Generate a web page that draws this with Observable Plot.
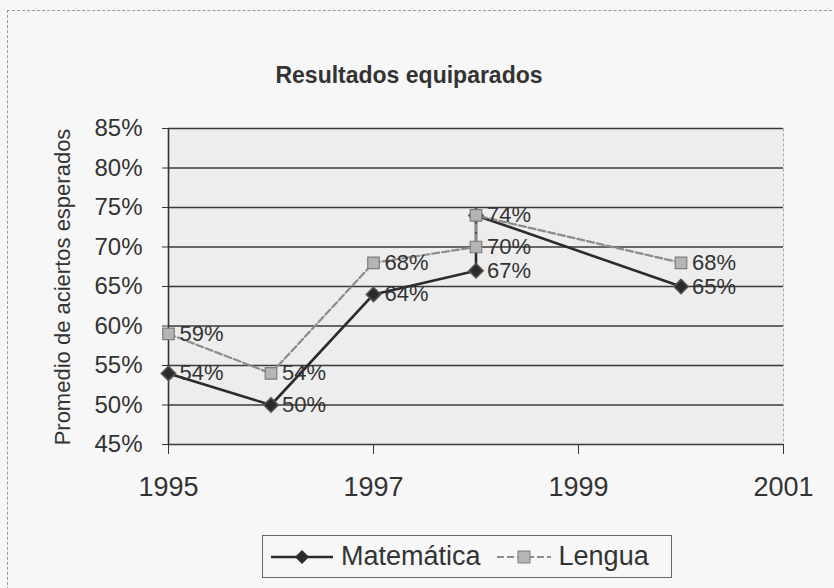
<!DOCTYPE html>
<html>
<head>
<meta charset="utf-8">
<script src="https://cdn.jsdelivr.net/npm/d3@7"></script>
<script src="https://cdn.jsdelivr.net/npm/@observablehq/plot@0.6"></script>
<style>
  html, body { margin: 0; padding: 0; background: #f7f7f7; }
  #wrap { position: relative; width: 834px; height: 588px; overflow: hidden; font-family: "Liberation Sans", Arial, sans-serif; color: #333; }
  #border { position: absolute; left: 7px; top: 10px; width: 850px; height: 600px; border: 1px dashed #9a9a9a; box-sizing: border-box; }
  #title { position: absolute; left: 0; width: 818px; top: 62px; text-align: center; font-size: 23px; font-weight: bold; }
  #ylabel { position: absolute; left: 63px; top: 287px; transform: translate(-50%, -50%) rotate(-90deg); white-space: nowrap; font-size: 22px; }
  #legend { position: absolute; left: 262px; top: 535px; width: 410px; height: 43px; border: 1px solid #666; box-sizing: border-box; display: flex; align-items: center; font-size: 27px; }
  #legend .item { display: flex; align-items: center; }
  #plot { position: absolute; left: 0; top: 0; }
</style>
</head>
<body>
<div id="wrap">
  <div id="border"></div>
  <div id="plot"></div>
  <div id="title"></div>
  <div id="ylabel"></div>
  <div id="legend"></div>
</div>
<script>
// ---- data ----
const title = "Resultados equiparados";
const yLabel = "Promedio de aciertos esperados";
const seriesNames = ["Matemática", "Lengua"];
const years = [1995, 1996, 1997, 1998, 1998, 2000];
const matematica = [54, 50, 64, 67, 74, 65];
const lengua = [59, 54, 68, 70, 74, 68];
const matematicaLabelled = [true, true, true, true, false, true];
const lenguaLabelled = [true, true, true, true, true, true];
const xTicks = [1995, 1997, 1999, 2001];
const yTicks = [45, 50, 55, 60, 65, 70, 75, 80, 85];
const xDomain = [1995, 2001];
const yDomain = [45, 85];

const mathData = years.map((x, i) => ({x, y: matematica[i], label: matematicaLabelled[i]}));
const lengData = years.map((x, i) => ({x, y: lengua[i], label: lenguaLabelled[i]}));

const chart = Plot.plot({
  width: 834,
  height: 588,
  marginLeft: 168,
  marginRight: 51,
  marginTop: 128,
  marginBottom: 144,
  style: { background: "transparent", fontFamily: "Liberation Sans, Arial, sans-serif", color: "#333", overflow: "visible" },
  x: { domain: xDomain, ticks: xTicks, tickFormat: "d" },
  y: { domain: yDomain, ticks: yTicks, tickFormat: d => d + "%" },
  marks: [
    Plot.frame({ fill: "#ededed", stroke: "#aaa", strokeDasharray: "3,2" }),
    Plot.gridY(yTicks, { stroke: "#3a3a3a", strokeOpacity: 1, strokeWidth: 1.6 }),
    Plot.ruleX([xDomain[0]], { stroke: "#333", strokeWidth: 1.6 }),
    Plot.axisY({ ticks: yTicks, tickFormat: d => d + "%", tickSize: 6, tickPadding: 20, fontSize: 24, label: null, stroke: "#333" }),
    Plot.axisX({ ticks: xTicks, tickFormat: "d", tickSize: 10, tickPadding: 22, fontSize: 27, label: null, stroke: "#333" }),
    Plot.line(mathData, { x: "x", y: "y", stroke: "#2b2b2b", strokeWidth: 2.6 }),
    Plot.line(lengData, { x: "x", y: "y", stroke: "#8c8c8c", strokeWidth: 2.2, strokeDasharray: "7,3" }),
    Plot.dot(mathData, { x: "x", y: "y", symbol: "diamond2", r: 6.5, fill: "#2b2b2b", stroke: "#555" }),
    Plot.dot(lengData, { x: "x", y: "y", symbol: "square", r: 6.5, fill: "#b5b5b5", stroke: "#7d7d7d", strokeWidth: 1.2 }),
    Plot.text(mathData.filter(d => d.label), { x: "x", y: "y", text: d => d.y + "%", dx: 11, textAnchor: "start", fontSize: 22, fill: "#333" }),
    Plot.text(lengData.filter(d => d.label), { x: "x", y: "y", text: d => d.y + "%", dx: 11, textAnchor: "start", fontSize: 22, fill: "#333" })
  ]
});
document.getElementById("plot").appendChild(chart);
document.getElementById("title").textContent = title;
document.getElementById("ylabel").textContent = yLabel;

// legend
const legend = document.getElementById("legend");
const icons = [
  `<svg width="66" height="20"><line x1="2" y1="10" x2="64" y2="10" stroke="#2b2b2b" stroke-width="2.5"/><path d="M33,3 L40,10 L33,17 L26,10 Z" fill="#2b2b2b"/></svg>`,
  `<svg width="58" height="20"><line x1="2" y1="10" x2="56" y2="10" stroke="#8c8c8c" stroke-width="2.2" stroke-dasharray="7,3"/><rect x="23" y="4" width="12" height="12" fill="#b5b5b5" stroke="#7d7d7d"/></svg>`
];
const gaps = ["6px", "14px"];
seriesNames.forEach((name, i) => {
  const item = document.createElement("div");
  item.className = "item";
  item.style.marginLeft = gaps[i];
  item.innerHTML = icons[i] + `<span style="margin-left:6px">${name}</span>`;
  legend.appendChild(item);
});
</script>
</body>
</html>
